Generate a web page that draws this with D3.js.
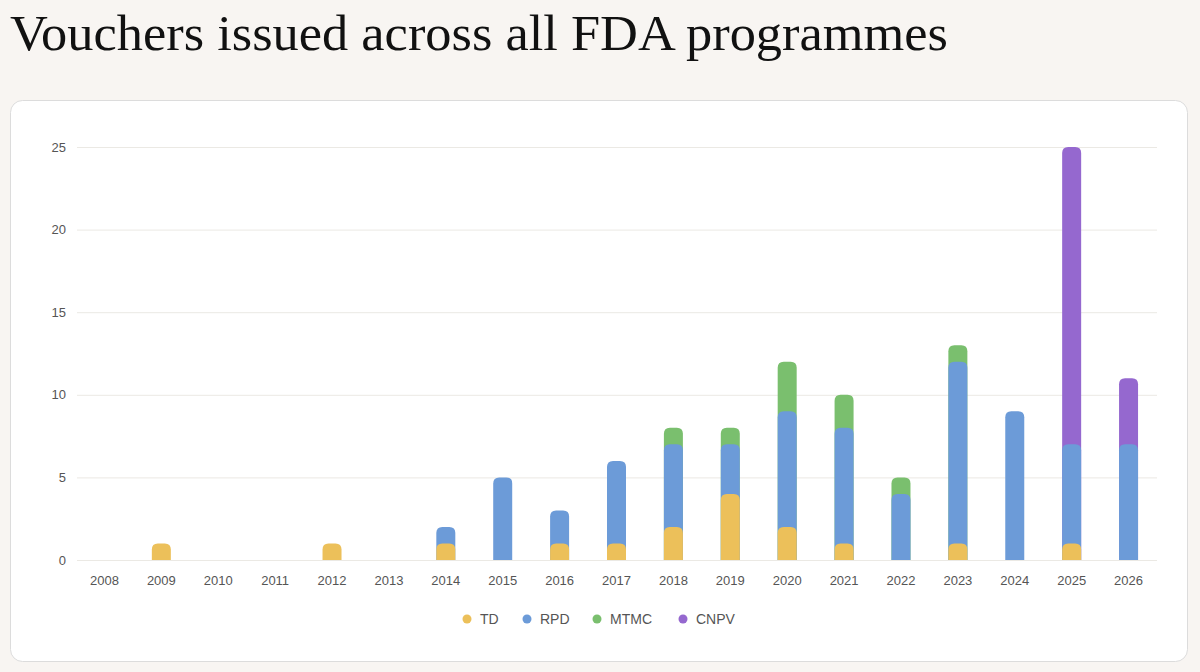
<!DOCTYPE html>
<html><head><meta charset="utf-8">
<script src="https://cdn.jsdelivr.net/npm/d3@7"></script>
<style>
html,body{margin:0;padding:0;background:#f8f5f2;}
svg{display:block;}
</style></head>
<body>
<svg id="chart" width="1200" height="672"></svg>
<script>
const years = ["2008","2009","2010","2011","2012","2013","2014","2015","2016","2017","2018","2019","2020","2021","2022","2023","2024","2025","2026"];
const seriesNames = ["TD","RPD","MTMC","CNPV"];
const TD   = [0,1,0,0,1,0,1,0,1,1,2,4,2,1,0,1,0,1,0];
const RPD  = [0,0,0,0,0,0,1,5,2,5,5,3,7,7,4,11,9,6,7];
const MTMC = [0,0,0,0,0,0,0,0,0,0,1,1,3,2,1,1,0,0,0];
const CNPV = [0,0,0,0,0,0,0,0,0,0,0,0,0,0,0,0,0,18,4];
const yTicks = [0,5,10,15,20,25];
const colors = ["#ecc05a","#6c9bd8","#7abf6e","#9568cf"];
const title = "Vouchers issued across all FDA programmes";

const svg = d3.select("#chart");
svg.append("rect").attr("width",1200).attr("height",672).attr("fill","#f8f5f2");

const t = svg.append("text").attr("x",10).attr("y",50)
  .attr("font-family","'Liberation Serif','DejaVu Serif',serif")
  .attr("font-size",51).attr("fill","#111").text(title);
const tw = t.node().getComputedTextLength();
if (tw > 0) t.attr("textLength",938).attr("lengthAdjust","spacingAndGlyphs");

svg.append("rect").attr("x",10.5).attr("y",100.5).attr("width",1177).attr("height",561)
  .attr("rx",12).attr("fill","#fff").attr("stroke","#dcdcdc");

const x = d3.scaleBand().domain(years).range([76,1157]);
const y = d3.scaleLinear().domain([0,25]).range([560,147]);

const g = svg.append("g");
g.selectAll("line.grid").data(yTicks).join("line")
  .attr("x1",77).attr("x2",1157)
  .attr("y1",d=>y(d)+0.5).attr("y2",d=>y(d)+0.5)
  .attr("stroke","#ebe9e4").attr("stroke-width",1);

g.selectAll("text.yl").data(yTicks).join("text")
  .attr("x",66).attr("y",d=>y(d)).attr("dy","0.35em").attr("text-anchor","end")
  .attr("font-family","'Liberation Sans',Arial,sans-serif").attr("font-size",13).attr("fill","#555")
  .text(d=>d);

const xAxis = d3.axisBottom(x).tickSize(0).tickPadding(10);
const xa = svg.append("g").attr("transform","translate(0,566)").call(xAxis);
xa.select(".domain").remove();
xa.selectAll("text").attr("font-family","'Liberation Sans',Arial,sans-serif").attr("font-size",13).attr("fill","#555");

const table = years.map((yr,i)=>({year:yr,TD:TD[i],RPD:RPD[i],MTMC:MTMC[i],CNPV:CNPV[i]}));
const stack = d3.stack().keys(seriesNames)(table);

const bw = 19;
const r = 6;
function topRounded(x0,y0,w,h,rad){
  if (h<=0) return "";
  const rr = Math.min(rad,h,w/2);
  return `M${x0},${y0+h}V${y0+rr}Q${x0},${y0} ${x0+rr},${y0}H${x0+w-rr}Q${x0+w},${y0} ${x0+w},${y0+rr}V${y0+h}Z`;
}
for (let s = stack.length-1; s>=0; s--){
  const layer = stack[s];
  svg.append("g").selectAll("path").data(layer.filter(d=>d[1]-d[0]>0)).join("path")
    .attr("fill",colors[s])
    .attr("d",d=>{
      const cx = x(d.data.year)+x.bandwidth()/2;
      const yt = y(d[1]); const yb = y(0);
      return topRounded(cx-bw/2,yt,bw,yb-yt,r);
    });
}

const legX = [467,527,597,683];
const lg = svg.append("g");
seriesNames.forEach((n,i)=>{
  lg.append("circle").attr("cx",legX[i]).attr("cy",619).attr("r",4.5).attr("fill",colors[i]);
  lg.append("text").attr("x",legX[i]+13).attr("y",619).attr("dy","0.35em")
    .attr("font-family","'Liberation Sans',Arial,sans-serif").attr("font-size",14).attr("fill","#555").text(n);
});
</script>
</body></html>
